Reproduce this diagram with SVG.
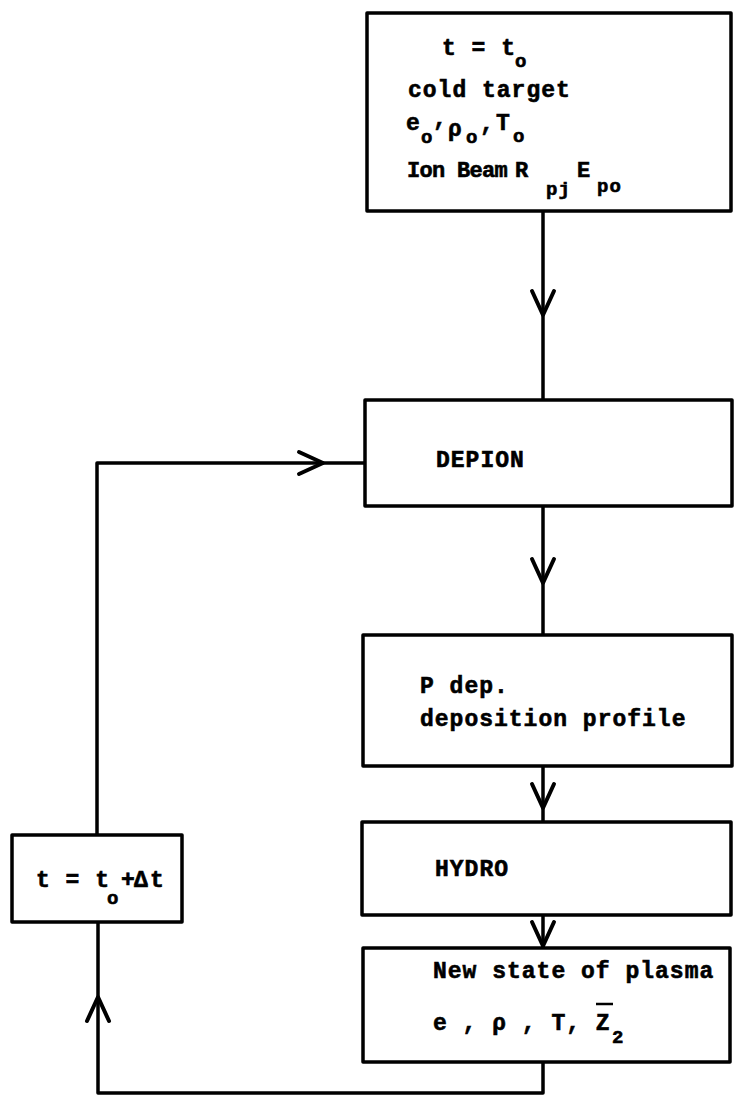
<svg xmlns="http://www.w3.org/2000/svg" width="735" height="1101" viewBox="0 0 735 1101">
<style>
.box{fill:#fff;stroke:#000;stroke-width:3.5;stroke-linejoin:round}
.ln{fill:none;stroke:#000;stroke-width:3.5;stroke-linejoin:round}
.t{font-family:"Liberation Mono","DejaVu Sans Mono",monospace;font-weight:bold;font-size:23px;letter-spacing:1px;fill:#000;stroke:#000;stroke-width:0.6}
.s{font-size:19px}
.n{font-size:22px;letter-spacing:-0.7px}
</style>
<defs>
<path id="chev" d="M-11,-24 L0,0 L11,-24" fill="none" stroke="#000" stroke-width="4" stroke-linecap="round" stroke-linejoin="round"/>
</defs>
<rect width="735" height="1101" fill="#fff"/>
<g id="connectors">
<path class="ln" d="M543,211 V400"/>
<path class="ln" d="M543,506 V635"/>
<path class="ln" d="M543,766 V822"/>
<path class="ln" d="M543,915 V948"/>
<path class="ln" d="M543,1062 V1093 H98 V922"/>
<path class="ln" d="M97,835 V463 H365"/>
<use href="#chev" transform="translate(543,315)"/>
<use href="#chev" transform="translate(543,583)"/>
<use href="#chev" transform="translate(543,808)"/>
<use href="#chev" transform="translate(543,946)"/>
<use href="#chev" transform="translate(98,997) rotate(180)"/>
<use href="#chev" transform="translate(323,463) rotate(-90)"/>
</g>
<g id="start">
<rect class="box" x="367" y="13" width="364" height="198"/>
<text class="t"><tspan x="442" y="55">t = t</tspan><tspan class="s" x="515" y="67">o</tspan></text>
<text class="t" x="408" y="97">cold target</text>
<text class="t"><tspan x="406" y="130">e</tspan><tspan class="s" x="421" y="143">o</tspan><tspan x="433" y="126">,</tspan><tspan x="448" y="136">ρ</tspan><tspan class="s" x="466" y="143">o</tspan><tspan x="480" y="131">,</tspan><tspan x="496" y="130">T</tspan><tspan class="s" x="513" y="142">o</tspan></text>
<text class="t"><tspan class="n" x="407" y="177">Ion Beam</tspan><tspan class="n" x="515" y="177">R</tspan><tspan class="s" x="546" y="195">pj</tspan><tspan class="n" x="577" y="177">E</tspan><tspan class="s" x="597" y="192">po</tspan></text>
</g>
<g id="depion">
<rect class="box" x="365" y="400" width="367" height="106"/>
<text class="t" x="436" y="467">DEPION</text>
</g>
<g id="pdep">
<rect class="box" x="363" y="635" width="369" height="131"/>
<text class="t" x="420" y="693">P dep.</text>
<text class="t" x="420" y="726">deposition profile</text>
</g>
<g id="hydro">
<rect class="box" x="362" y="822" width="369" height="93"/>
<text class="t" x="435" y="876">HYDRO</text>
</g>
<g id="newstate">
<rect class="box" x="363" y="948" width="367" height="114"/>
<text class="t" x="433" y="978">New state of plasma</text>
<text class="t"><tspan x="433" y="1030">e , ρ , T, Z</tspan><tspan class="s" x="612" y="1043">2</tspan></text>
<path d="M596,1004 H613" stroke="#000" stroke-width="2.5"/>
</g>
<g id="timestep">
<rect class="box" x="12" y="835" width="170" height="87"/>
<text class="t"><tspan x="36" y="887">t = t</tspan><tspan class="s" x="107" y="904">o</tspan><tspan x="121" y="887">+</tspan><tspan x="134" y="887">Δ</tspan><tspan x="150" y="887">t</tspan></text>
</g>
</svg>
